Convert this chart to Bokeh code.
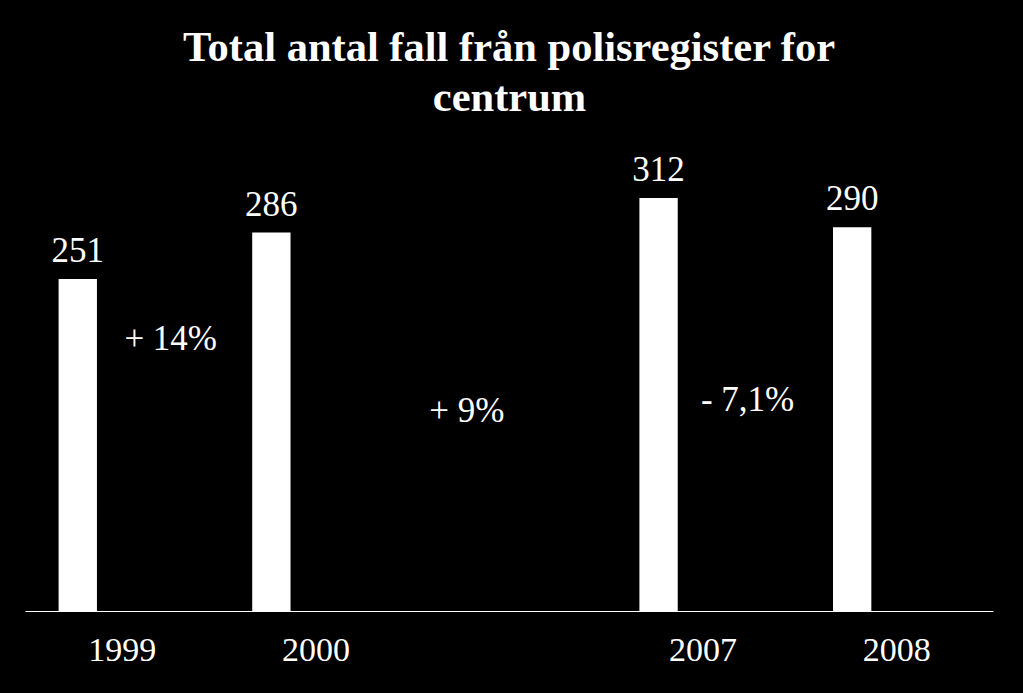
from bokeh.plotting import figure
from bokeh.models import ColumnDataSource, Range1d, FactorRange, LabelSet, Title, GlobalInlineStyleSheet
from bokeh.transform import dodge
from bokeh.embed import file_html
from bokeh.resources import INLINE

# ---- data ----
years = ["1999", "2000", "2007", "2008"]
values = [251, 286, 312, 290]
slots = ["1999", "2000", " ", "2007", "2008"]
changes = ["+ 14%", "+ 9%", "- 7,1%"]

# layout positions for change annotations (synthetic x, data y)
change_x = [0.75, 2.28, 3.73]
change_y = [197, 143, 151]

FONT = "Liberation Serif"

p = figure(width=1007, height=677, x_range=FactorRange(*slots, range_padding=0),
           y_range=Range1d(0, 357), output_backend="svg", toolbar_location=None,
           min_border_left=25, min_border_right=14, min_border_bottom=66, min_border_top=138)

p.background_fill_color = "black"
p.border_fill_color = "black"
p.outline_line_color = None
p.grid.visible = False
p.yaxis.visible = False

ax = p.xaxis[0]
ax.axis_line_color = "white"
ax.axis_line_width = 1
ax.major_tick_line_color = None
ax.minor_tick_line_color = None
ax.major_label_text_color = "white"
ax.major_label_text_font = FONT
ax.major_label_text_font_size = "34px"
ax.major_label_standoff = 13

src = ColumnDataSource(dict(year=years, value=values, label=[str(v) for v in values]))
p.vbar(x=dodge("year", -0.23, range=p.x_range), top="value", width=0.198, source=src,
       fill_color="white", line_color=None)

p.add_layout(LabelSet(x=dodge("year", -0.23, range=p.x_range), y="value", text="label",
                      source=src, text_align="center", text_baseline="alphabetic",
                      y_offset=17, text_color="white", text_font=FONT,
                      text_font_size="35px"))

csrc = ColumnDataSource(dict(x=change_x, y=change_y, t=changes))
p.add_layout(LabelSet(x="x", y="y", text="t", source=csrc, text_align="center",
                      text_baseline="alphabetic", text_color="white", text_font=FONT,
                      text_font_size="35px"))

p.add_layout(Title(text="centrum", align="center", text_color="white", text_font=FONT,
                   text_font_size="42.5px", text_font_style="bold", standoff=38), "above")
p.add_layout(Title(text="Total antal fall från polisregister for", align="center",
                   text_color="white", text_font=FONT, text_font_size="42.5px",
                   text_font_style="bold", standoff=-36), "above")

p.stylesheets = [GlobalInlineStyleSheet(css="html, body { background-color: black; }")]

open("out.html", "w").write(file_html(p, INLINE))
